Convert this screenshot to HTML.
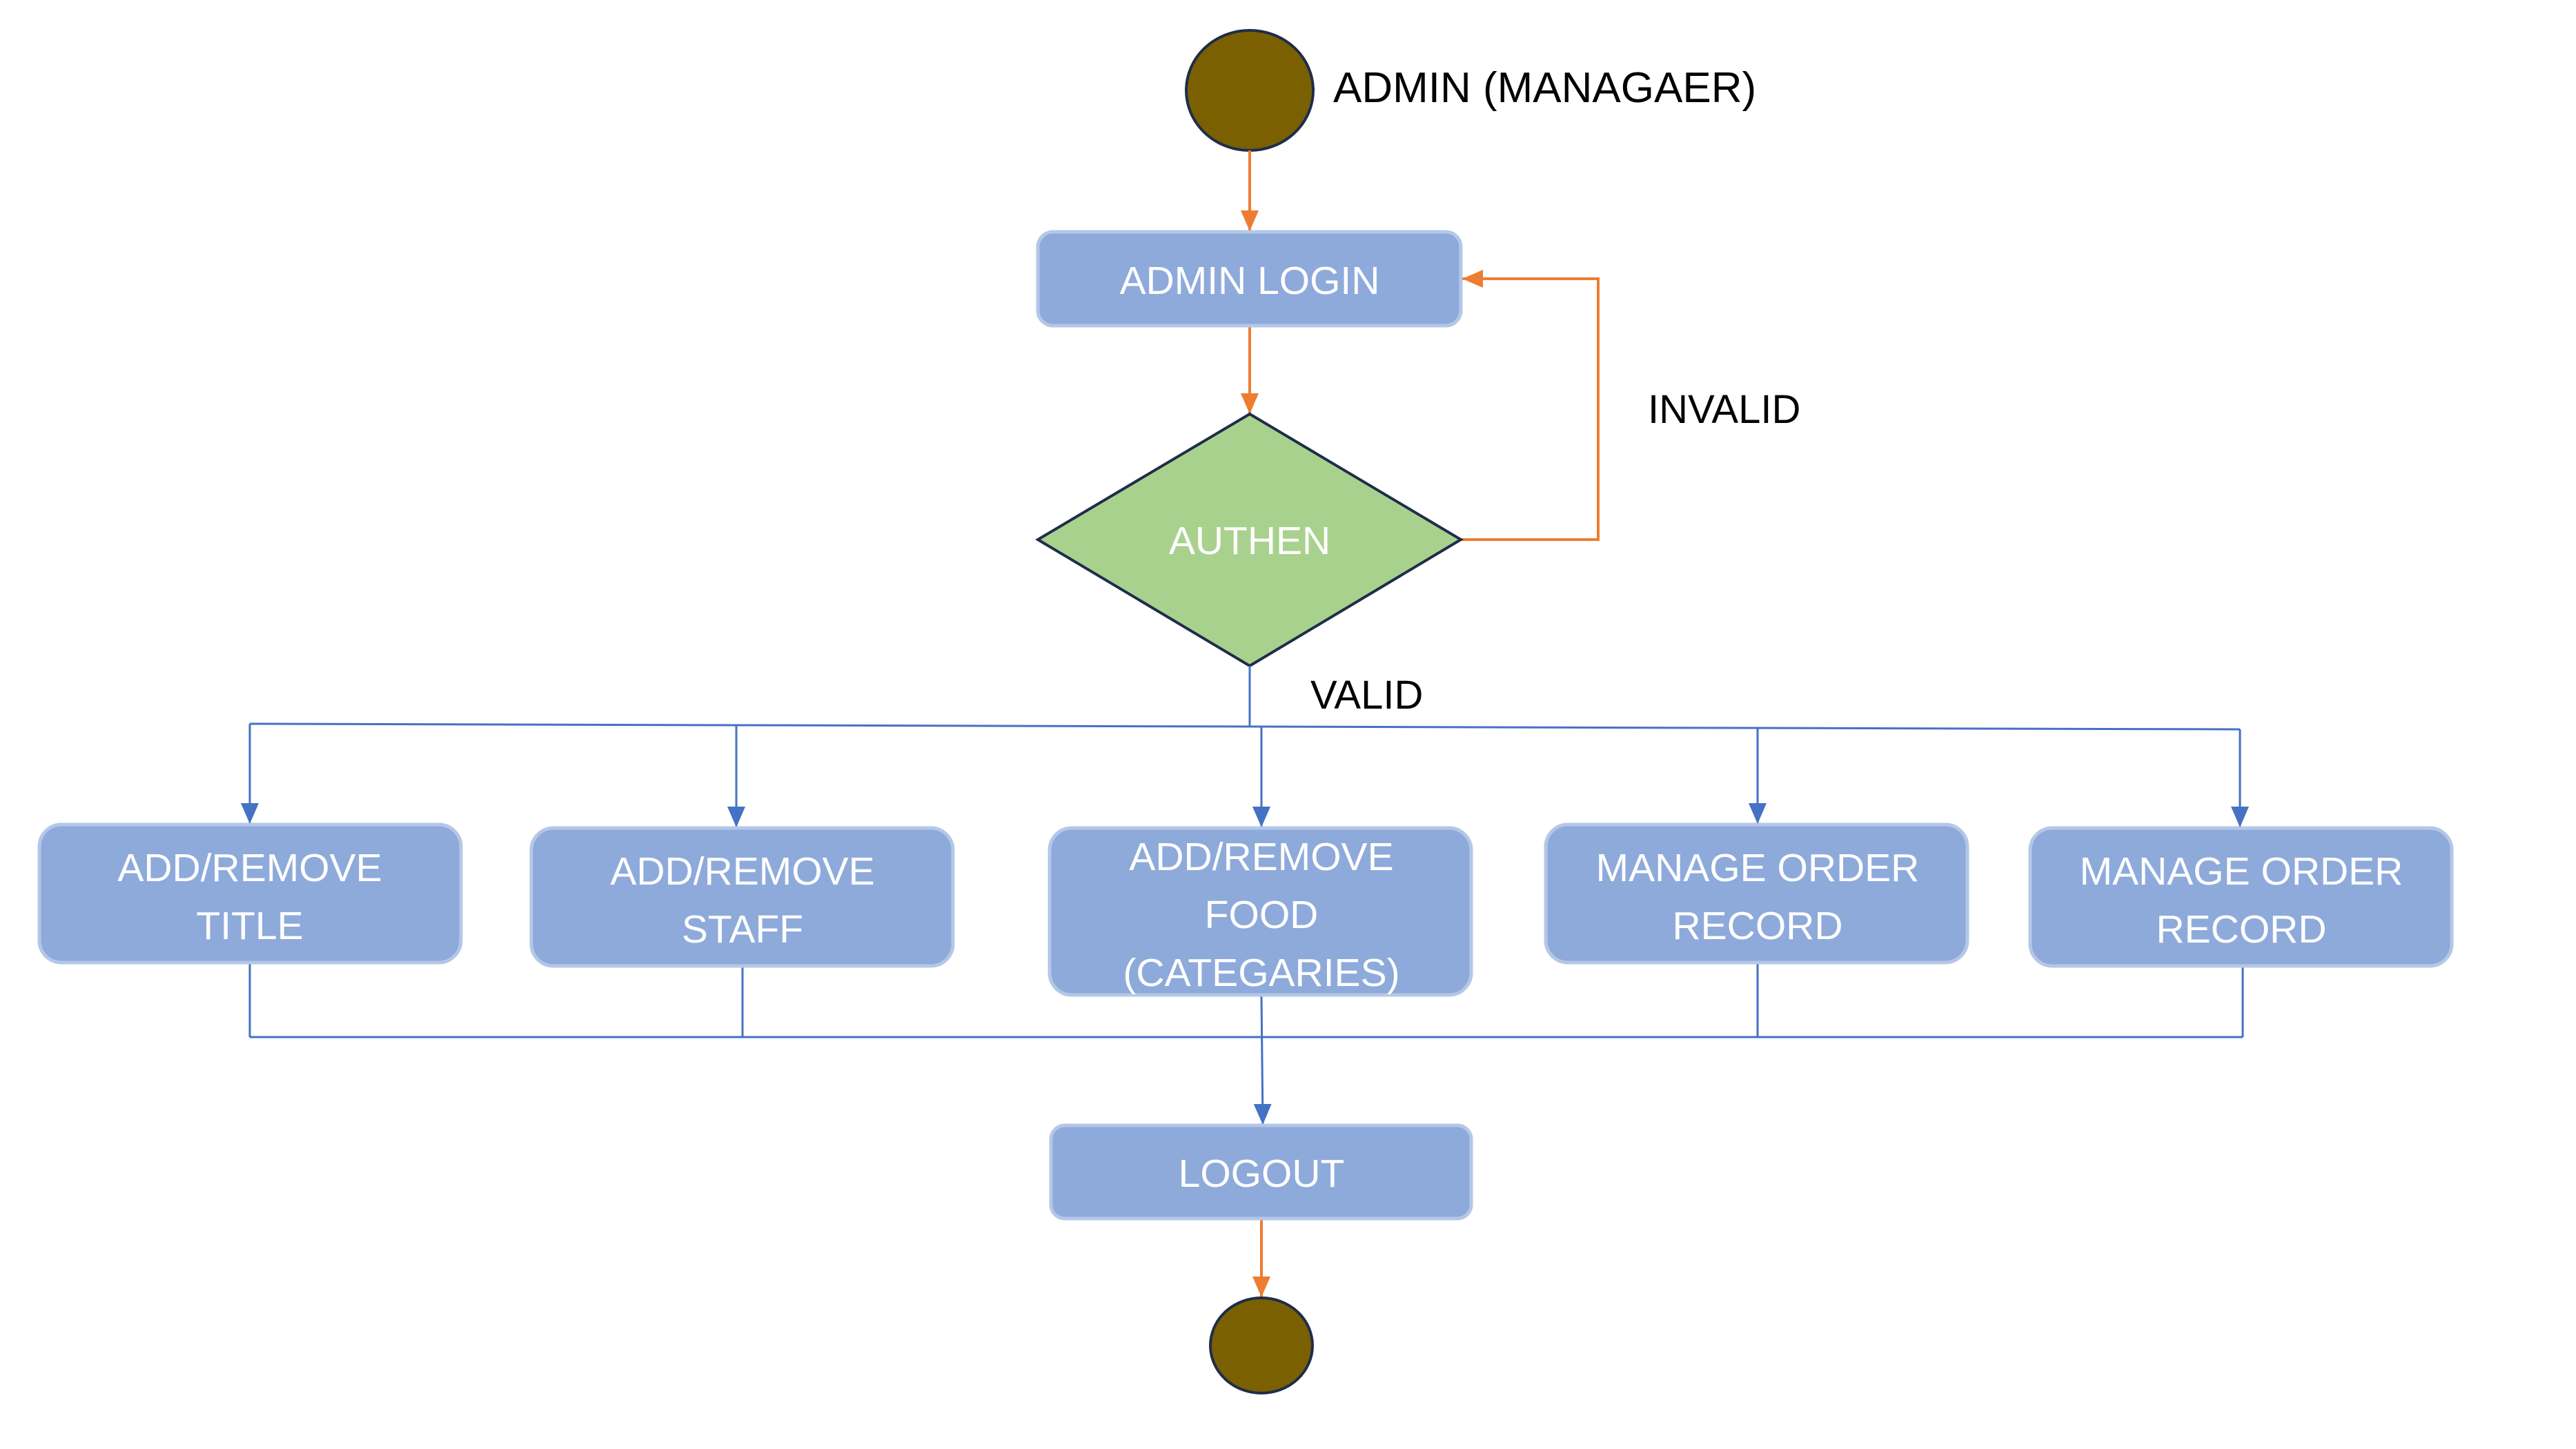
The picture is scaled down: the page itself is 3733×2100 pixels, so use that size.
<!DOCTYPE html>
<html><head><meta charset="utf-8"><style>
html,body{margin:0;padding:0;background:#fff;}
svg{display:block;}
text{font-family:"Liberation Sans",sans-serif;}
.w{fill:#fff;font-size:57px;text-anchor:middle;}
.b{fill:#000;font-size:58px;}
.box{fill:#8EAADB;stroke:#B4C7E7;stroke-width:5;}
</style></head><body>
<svg width="3733" height="2100" viewBox="0 0 3733 2100" xmlns="http://www.w3.org/2000/svg">
<defs>
<marker id="ao" markerWidth="30" markerHeight="26" refX="30" refY="13" orient="auto" markerUnits="userSpaceOnUse" viewBox="0 0 30 26"><path d="M0,0 L30,13 L0,26z" fill="#ED7D31"/></marker>
<marker id="ab" markerWidth="30" markerHeight="26" refX="30" refY="13" orient="auto" markerUnits="userSpaceOnUse" viewBox="0 0 30 26"><path d="M0,0 L30,13 L0,26z" fill="#4472C4"/></marker>
</defs>
<ellipse cx="1811" cy="131" rx="92" ry="87" fill="#7A6000" stroke="#1F2D4A" stroke-width="4"/>
<text class="b" x="1932" y="148" style="font-size:62px">ADMIN (MANAGAER)</text>
<g stroke="#ED7D31" stroke-width="4" fill="none">
<line x1="1811" y1="218" x2="1811" y2="335" marker-end="url(#ao)"/>
<line x1="1811" y1="473" x2="1811" y2="600" marker-end="url(#ao)"/>
<polyline points="2117,782 2316,782 2316,404 2119,404" marker-end="url(#ao)"/>
<line x1="1828" y1="1767" x2="1828" y2="1880" marker-end="url(#ao)"/>
</g>
<rect class="box" x="1504" y="336" width="613" height="136" rx="22"/>
<text class="w" x="1811" y="426">ADMIN LOGIN</text>
<polygon points="1811,600 2117,782 1811,965 1504,782" fill="#A9D18E" stroke="#1F2D4A" stroke-width="4"/>
<text class="w" x="1811" y="803">AUTHEN</text>
<text class="b" x="2388" y="613">INVALID</text>
<text class="b" x="1899" y="1027">VALID</text>
<g stroke="#4472C4" stroke-width="3" fill="none">
<line x1="1811" y1="965" x2="1811" y2="1052"/>
<line x1="362" y1="1049" x2="3246" y2="1057"/>
<line x1="362" y1="1049" x2="362" y2="1194" marker-end="url(#ab)"/>
<line x1="1067" y1="1051" x2="1067" y2="1199" marker-end="url(#ab)"/>
<line x1="1828" y1="1054" x2="1828" y2="1199" marker-end="url(#ab)"/>
<line x1="2547" y1="1056" x2="2547" y2="1194" marker-end="url(#ab)"/>
<line x1="3246" y1="1057" x2="3246" y2="1199" marker-end="url(#ab)"/>
<line x1="362" y1="1396" x2="362" y2="1503"/>
<line x1="1076" y1="1401" x2="1076" y2="1503"/>
<line x1="2547" y1="1396" x2="2547" y2="1503"/>
<line x1="3250" y1="1401" x2="3250" y2="1503"/>
<line x1="362" y1="1503" x2="3250" y2="1503"/>
<line x1="1828" y1="1443" x2="1830" y2="1630" marker-end="url(#ab)"/>
</g>
<rect class="box" x="57" y="1195" width="611" height="200" rx="32"/>
<text class="w" x="362" y="1277">ADD/REMOVE</text><text class="w" x="362" y="1361">TITLE</text>
<rect class="box" x="770" y="1200" width="611" height="200" rx="32"/>
<text class="w" x="1076" y="1282">ADD/REMOVE</text><text class="w" x="1076" y="1366">STAFF</text>
<rect class="box" x="1521" y="1200" width="611" height="242" rx="32"/>
<text class="w" x="1828" y="1261">ADD/REMOVE</text><text class="w" x="1828" y="1345">FOOD</text><text class="w" x="1828" y="1429">(CATEGARIES)</text>
<rect class="box" x="2240" y="1195" width="611" height="200" rx="32"/>
<text class="w" x="2547" y="1277">MANAGE ORDER</text><text class="w" x="2547" y="1361">RECORD</text>
<rect class="box" x="2942" y="1200" width="611" height="200" rx="32"/>
<text class="w" x="3248" y="1282">MANAGE ORDER</text><text class="w" x="3248" y="1366">RECORD</text>
<rect class="box" x="1523" y="1631" width="609" height="135" rx="20"/>
<text class="w" x="1828" y="1720">LOGOUT</text>
<ellipse cx="1828" cy="1950" rx="74" ry="69" fill="#7A6000" stroke="#1F2D4A" stroke-width="4"/>
</svg>
</body></html>
